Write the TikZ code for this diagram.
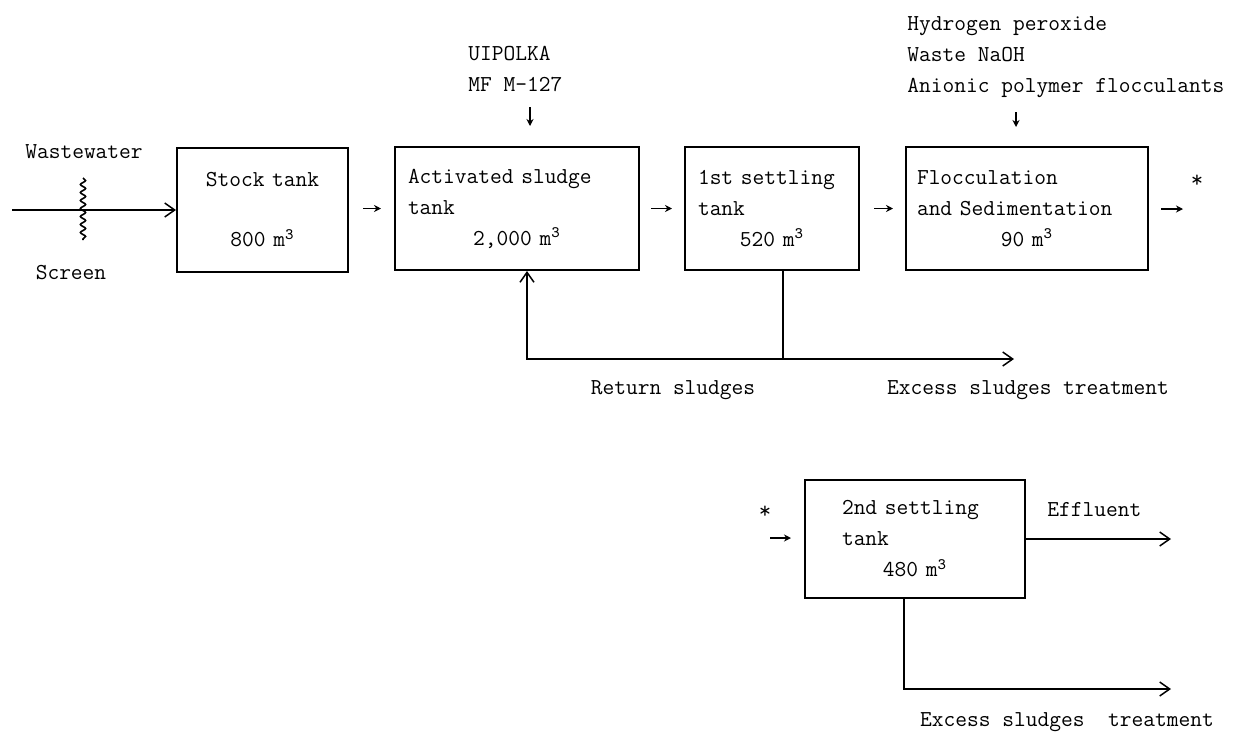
\documentclass[tikz,border=0pt]{standalone}
\usepackage{tikz}
\usetikzlibrary{arrows.meta,decorations.pathmorphing}
\setlength{\parindent}{0pt}
\newcommand{\vol}[1]{\par{\centering #1 m\textsuperscript{3}\par}}

\begin{document}
\begin{tikzpicture}[x=0.5pt, y=-0.5pt,
  every node/.style={font=\ttfamily\fontsize{11.4}{15.5}\selectfont},
  tank/.style={draw, line width=1pt, inner ysep=0pt, align=left, minimum height=61.5pt},
  label/.style={inner sep=0pt, align=left, anchor=west},
  pipe/.style={line width=0.75pt},
  flow/.style={pipe, -{Straight Barb[length=5pt,width=7pt]}},
  feed/.style={line width=0.7pt, -{Stealth[length=3.5pt,width=3.5pt]}}]
\useasboundingbox (0,0) rectangle (1237,735);

\node[tank, inner xsep=0pt, text width=85.5pt, align=center, minimum height=62pt] (stock) at (262.5,210) {Stock tank\\[14.5pt]800 m\textsuperscript{3}};
\node[tank, inner xsep=6.5pt, text width=109pt] (act) at (517,208.5) {Activated sludge\\tank\vol{2,000}};
\node[tank, inner xsep=6.5pt, text width=74pt] (set1) at (772,208.5) {1st settling\\tank\vol{520}};
\node[tank, inner xsep=5.5pt, text width=110pt] (floc) at (1027,208.5) {Flocculation\\and Sedimentation\vol{90}};
\node[tank, inner xsep=18.5pt, text width=73pt, minimum height=59pt] (set2) at (915,539) {2nd settling\\tank\vol{480}};

\node (ww) at (84,152) {Wastewater};
\node (scr) at (71,273) {Screen};
\node[label] (chemA) at (468,69) {UIPOLKA\\MF M-127};
\node[label] (chemB) at (907,57) {Hydrogen peroxide\\Waste NaOH\\Anionic polymer flocculants};
\node (star1) at (1197,181) {\large *};
\node (star2) at (765,512) {\large *};
\node[label] (eff) at (1047,510) {Effluent};
\node (ret) at (673,390) {Return sludges};
\node (exc1) at (1028,390) {Excess sludges treatment};
\node (exc2) at (1067,722) {Excess sludges\ \ treatment};

\coordinate (inlet) at (12,210);
\coordinate (dosA) at (530,107);
\coordinate (dosB) at (1016,112);
\coordinate (split) at (783,359);
\coordinate (sludge1) at (1014,359);
\coordinate (out1) at (1183,209);
\coordinate (in2) at (770,538);
\coordinate (out2) at (1171,539);
\coordinate (sludge2) at (1171,689);

\draw[flow] (inlet) -- (stock.west);
\draw[decorate, decoration={snake, amplitude=1.3pt, segment length=4pt}, line width=0.8pt] (83,178) -- (83,240);
\draw[feed, shorten <=7pt, shorten >=6.5pt] (stock.east |- act.west) -- (act.west);
\draw[feed, shorten <=5.5pt, shorten >=6pt] (act) -- (set1);
\draw[feed, shorten <=7pt, shorten >=6pt] (set1) -- (floc);
\draw[feed, shorten <=6pt] (floc.east |- out1) -- (out1);
\draw[feed, shorten >=10pt] (dosA) -- (dosA |- act.north);
\draw[feed, shorten >=9.5pt] (dosB) -- (dosB |- floc.north);
\draw[pipe] (set1.south -| split) -- (split);
\draw[flow] (split) -| ([xshift=5pt]act.south);
\draw[flow] (split) -- (sludge1);
\draw[feed, shorten >=6.5pt] (in2) -- (in2 -| set2.west);
\draw[flow] (set2.east |- out2) -- (out2);
\draw[flow] ([xshift=-5.5pt]set2.south) |- (sludge2);
\end{tikzpicture}
\end{document}
